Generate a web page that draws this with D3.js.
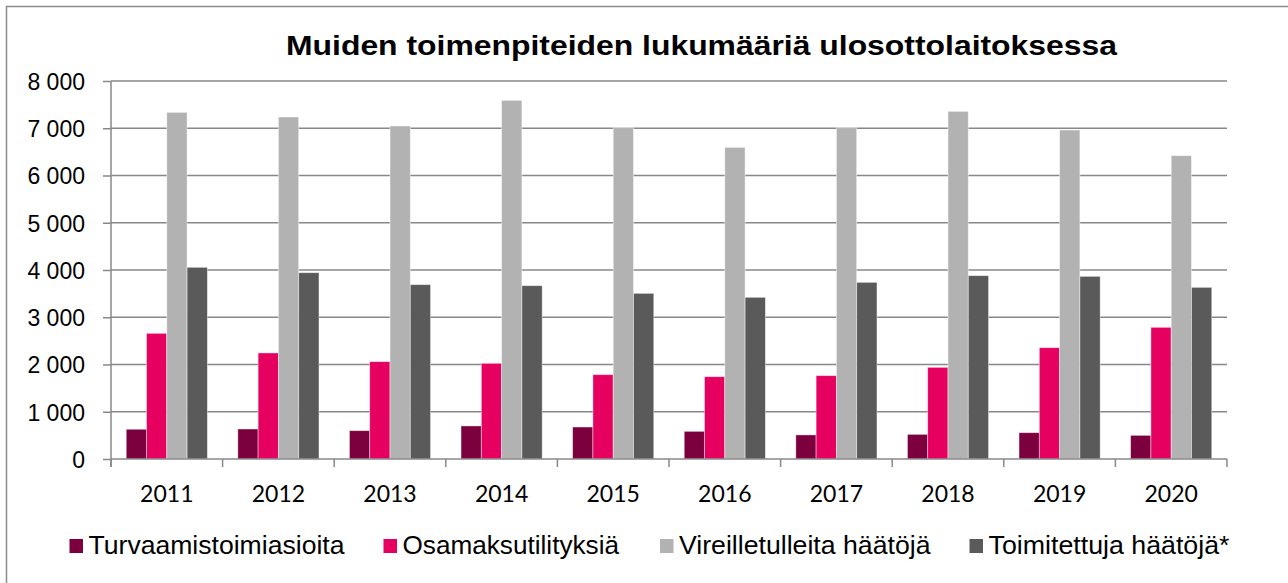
<!DOCTYPE html>
<html>
<head>
<meta charset="utf-8">
<script src="https://cdn.jsdelivr.net/npm/d3@7"></script>
<style>
  html, body { margin: 0; padding: 0; background: #fff; }
  svg { display: block; }
</style>
</head>
<body>
<svg id="chart" width="1288" height="583"></svg>
<script>
const title = "Muiden toimenpiteiden lukumääriä ulosottolaitoksessa";
const years = ["2011","2012","2013","2014","2015","2016","2017","2018","2019","2020"];
const seriesNames = ["Turvaamistoimiasioita","Osamaksutilityksiä","Vireilletulleita häätöjä","Toimitettuja häätöjä*"];
const turvaamis = [630, 635, 600, 700, 677, 586, 510, 522, 557, 501];
const osamaksu = [2660, 2245, 2060, 2025, 1785, 1742, 1764, 1940, 2356, 2787];
const vireille = [7337, 7238, 7048, 7591, 7012, 6596, 7010, 7358, 6963, 6420];
const toimitettuja = [4057, 3943, 3690, 3668, 3506, 3422, 3739, 3880, 3866, 3633];
const yTicks = [0, 1000, 2000, 3000, 4000, 5000, 6000, 7000, 8000];
const colors = ["#7c003e", "#e6005f", "#b2b2b2", "#5a5a5a"];

const seriesValues = [turvaamis, osamaksu, vireille, toimitettuja];

(function () {
const svg = d3.select("#chart");
const pLeft = 111, pRight = 1227, pTop = 81, pBottom = 459;

// outer frame
svg.append("rect").attr("x", 6.5).attr("y", 6.5).attr("width", 1300).attr("height", 600)
  .attr("fill", "none").attr("stroke", "#8c8c8c").attr("stroke-width", 1.5);

const x0 = d3.scaleBand().domain(years).range([pLeft, pRight]).padding(0);
const x1 = d3.scaleBand().domain(d3.range(seriesNames.length)).range([0, x0.bandwidth()])
  .paddingInner(0).paddingOuter(0.75);
const y = d3.scaleLinear().domain([0, 8000]).range([pBottom, pTop]);

const fmt = d3.formatLocale({decimal: ",", thousands: "\u00a0", grouping: [3], currency: ["", ""]}).format(",d");

// gridlines
svg.append("g").selectAll("line").data(yTicks.filter(d => d > 0)).join("line")
  .attr("x1", pLeft).attr("x2", pRight)
  .attr("y1", d => y(d)).attr("y2", d => y(d))
  .attr("stroke", "#888").attr("stroke-width", 1.5);

// bars
const groups = svg.append("g").selectAll("g").data(years).join("g")
  .attr("transform", d => `translate(${x0(d)},0)`);
groups.selectAll("rect").data((yr, i) => seriesValues.map((vals, s) => ({s, v: vals[i]}))).join("rect")
  .attr("x", d => x1(d.s))
  .attr("width", x1.bandwidth())
  .attr("y", d => y(d.v))
  .attr("height", d => y(0) - y(d.v))
  .attr("fill", d => colors[d.s])
  .attr("stroke", "rgba(255,255,255,0.55)")
  .attr("stroke-width", 0.8);

// y axis
const yAxis = d3.axisLeft(y).tickValues(yTicks).tickSize(8).tickPadding(18).tickFormat(d => fmt(d));
const ya = svg.append("g").attr("transform", `translate(${pLeft},0)`).call(yAxis);
ya.select(".domain").attr("stroke", "#888").attr("stroke-width", 1.5)
  .attr("d", `M0,${pTop}V${pBottom + 8}`);
ya.selectAll(".tick line").attr("stroke", "#888").attr("stroke-width", 1.5);
ya.selectAll(".tick text").attr("font-family", "'Liberation Sans', Arial, sans-serif")
  .attr("font-size", 23).attr("fill", "#000").attr("dy", "0.36em");

// x axis
svg.append("line").attr("x1", pLeft).attr("x2", pRight).attr("y1", pBottom).attr("y2", pBottom)
  .attr("stroke", "#888").attr("stroke-width", 1.5);
const boundaries = years.map(d => x0(d)).concat([x0(years[years.length - 1]) + x0.bandwidth()]);
svg.append("g").selectAll("line").data(boundaries).join("line")
  .attr("x1", d => d).attr("x2", d => d).attr("y1", pBottom).attr("y2", pBottom + 8)
  .attr("stroke", "#888").attr("stroke-width", 1.5);
svg.append("g").selectAll("text").data(years).join("text")
  .attr("x", d => x0(d) + x0.bandwidth() / 2)
  .attr("y", 502)
  .attr("text-anchor", "middle")
  .attr("font-family", "Lato, 'Open Sans', sans-serif")
  .attr("font-size", 23)
  .attr("fill", "#000")
  .text(d => d);

// title
svg.append("text").attr("x", 286).attr("y", 55)
  .attr("font-family", "'Liberation Sans', Arial, sans-serif")
  .attr("font-weight", "bold").attr("font-size", 28)
  .attr("textLength", 831).attr("lengthAdjust", "spacingAndGlyphs")
  .attr("fill", "#000").text(title);

// legend
const legendX = [69.5, 383.5, 660, 969.5];
const legendTextW = [256, 216.5, 251.5, 241];
const lg = svg.append("g").selectAll("g").data(seriesNames).join("g")
  .attr("transform", (d, i) => `translate(${legendX[i]},0)`);
lg.append("rect").attr("x", 0).attr("y", 539).attr("width", 13.5).attr("height", 14)
  .attr("fill", (d, i) => colors[i]);
lg.append("text").attr("x", 19).attr("y", 554)
  .attr("font-family", "'Liberation Sans', Arial, sans-serif")
  .attr("font-size", 26)
  .attr("textLength", (d, i) => legendTextW[i]).attr("lengthAdjust", "spacingAndGlyphs")
  .attr("fill", "#000").text(d => d);
})();
</script>
</body>
</html>
